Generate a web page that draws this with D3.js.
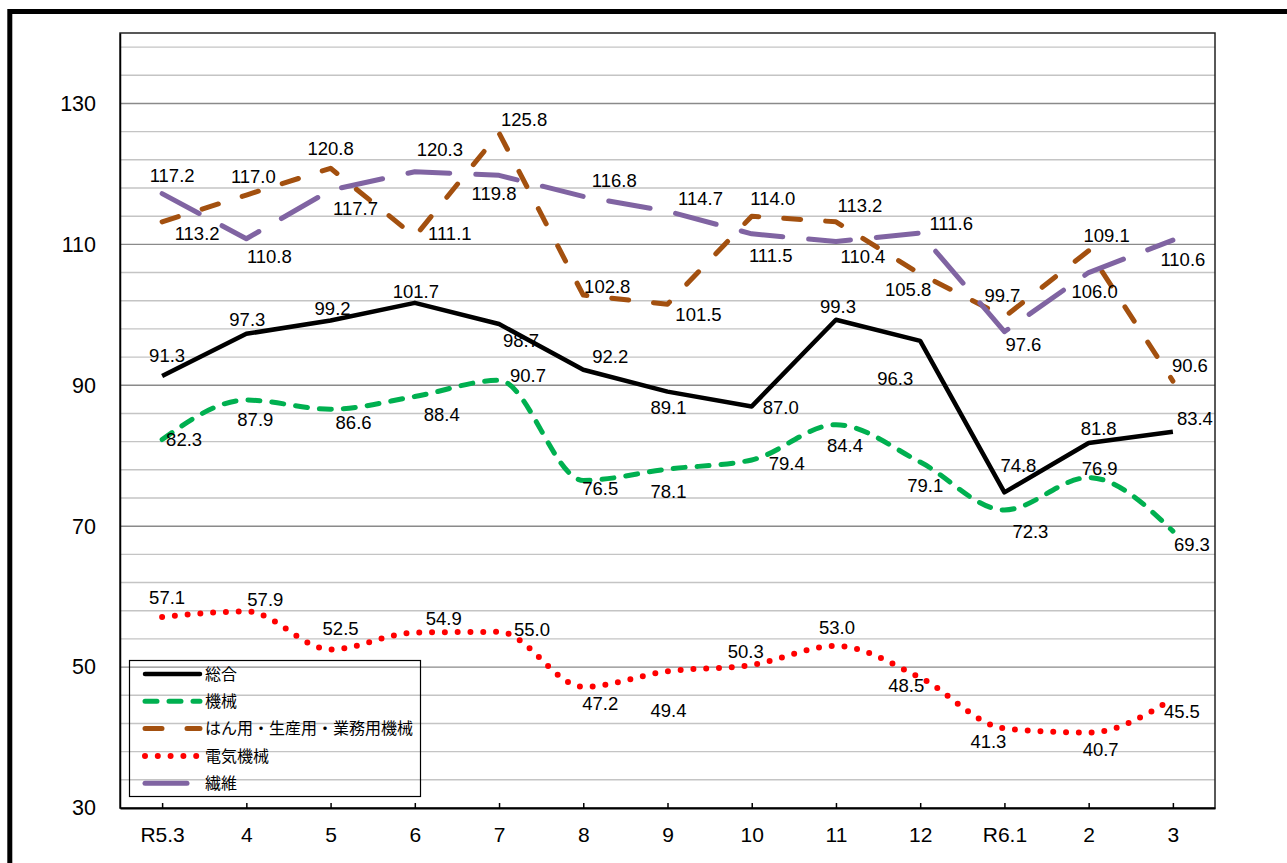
<!DOCTYPE html>
<html>
<head>
<meta charset="utf-8">
<script src="https://cdn.jsdelivr.net/npm/d3@7"></script>
<style>
  body { margin: 0; background: #fff; }
  svg { display: block; }
</style>
</head>
<body>
<div id="chart"></div>
<script>
// frame setup
const FRAME_WIDTH = 1287;
const FRAME_HEIGHT = 863;
const PLOT = {left: 120, right: 1215, top: 33, bottom: 808};

// data
const MONTHS = ["R5.3", "4", "5", "6", "7", "8", "9", "10", "11", "12", "R6.1", "2", "3"];
const SOGO    = [91.3, 97.3, 99.2, 101.7, 98.7, 92.2, 89.1, 87.0, 99.3, 96.3, 74.8, 81.8, 83.4];
const KIKAI   = [82.3, 87.9, 86.6, 88.4, 90.7, 76.5, 78.1, 79.4, 84.4, 79.1, 72.3, 76.9, 69.3];
const HANYO   = [113.2, 117.0, 120.8, 111.1, 125.8, 102.8, 101.5, 114.0, 113.2, 105.8, 99.7, 109.1, 90.6];
const DENKI   = [57.1, 57.9, 52.5, 54.9, 55.0, 47.2, 49.4, 50.3, 53.0, 48.5, 41.3, 40.7, 45.5];
const SENI    = [117.2, 110.8, 117.7, 120.3, 119.8, 116.8, 114.7, 111.5, 110.4, 111.6, 97.6, 106.0, 110.6];
const Y_TICKS = [30, 50, 70, 90, 110, 130];

// data label offsets (label centre relative to point, px)
const OFF_SOGO  = [[5,-21],[1,-15],[2,-12],[1,-12],[22,16],[27,-13],[1,16],[29,1],[2,-13],[-25,37],[14,-27],[10,-15],[22,-13]];
const OFF_KIKAI = [[22,0],[9,19],[23,13],[27,18],[29,-5],[17,8],[1,22],[35,3],[9,21],[5,23],[26,21],[11,-9],[19,13]];
const OFF_HANYO = [[35,12],[7,-19],[0,-20],[35,-3],[25,-14],[24,-9],[31,10],[21,-18],[24,-16],[-12,15],[-2,-22],[18,-15],[17,-16]];
const OFF_DENKI = [[5,-20],[19,-12],[10,-21],[29,-14],[33,-3],[17,17],[1,39],[-6,-14],[1,-19],[-14,8],[-16,13],[12,17],[9,13]];
const OFF_SENI  = [[10,-18],[23,18],[25,18],[25,-22],[-5,18],[31,-16],[33,-13],[19,22],[27,15],[31,-10],[19,13],[6,19],[10,19]];

const SERIES = [
  {name: "総合", values: SOGO, offsets: OFF_SOGO, color: "#000000", width: 4.5, dash: null, cap: "butt", smooth: false},
  {name: "機械", values: KIKAI, offsets: OFF_KIKAI, color: "#00b050", width: 5, dash: "12,12", cap: "round", smooth: true},
  {name: "はん用・生産用・業務用機械", values: HANYO, offsets: OFF_HANYO, color: "#a3500f", width: 5, dash: "17,25", cap: "round", smooth: false},
  {name: "電気機械", values: DENKI, offsets: OFF_DENKI, color: "#ff0000", width: 6, dash: "0,12.8", cap: "round", smooth: true},
  {name: "繊維", values: SENI, offsets: OFF_SENI, color: "#8064a2", width: 5, dash: "42,26", cap: "round", smooth: false}
];

const svg = d3.select("#chart")
  .append("svg")
    .attr("width", FRAME_WIDTH)
    .attr("height", FRAME_HEIGHT);

svg.append("rect")
  .attr("width", FRAME_WIDTH).attr("height", FRAME_HEIGHT)
  .attr("fill", "#fff");

// outer thick frame (cut off at right/bottom)
svg.append("rect")
  .attr("x", 9.8).attr("y", 11.5)
  .attr("width", 1300).attr("height", 900)
  .attr("fill", "none").attr("stroke", "#000").attr("stroke-width", 5);

// scales
const X_SCALE = d3.scalePoint()
  .domain(MONTHS)
  .range([PLOT.left, PLOT.right])
  .padding(0.5);
const Y_SCALE = d3.scaleLinear()
  .domain([30, 140])
  .range([PLOT.bottom, PLOT.top]);

// gridlines: minor every 4, major every 20
const minor = d3.range(34, 140, 4).filter(v => !Y_TICKS.includes(v));
svg.append("g").selectAll("line")
  .data(minor)
  .enter().append("line")
    .attr("x1", PLOT.left).attr("x2", PLOT.right)
    .attr("y1", d => Y_SCALE(d)).attr("y2", d => Y_SCALE(d))
    .attr("stroke", "#c4c4c4").attr("stroke-width", 1.4);
svg.append("g").selectAll("line")
  .data(Y_TICKS.filter(v => v > 30))
  .enter().append("line")
    .attr("x1", PLOT.left).attr("x2", PLOT.right)
    .attr("y1", d => Y_SCALE(d)).attr("y2", d => Y_SCALE(d))
    .attr("stroke", "#8a8a8a").attr("stroke-width", 1.4);

// plot border
svg.append("rect")
  .attr("x", PLOT.left).attr("y", PLOT.top)
  .attr("width", PLOT.right - PLOT.left).attr("height", PLOT.bottom - PLOT.top)
  .attr("fill", "none").attr("stroke", "#222").attr("stroke-width", 1.5);

// axes
const xAxis = svg.append("g")
  .attr("transform", "translate(0," + PLOT.bottom + ")")
  .call(d3.axisBottom(X_SCALE).tickSizeInner(-5).tickSizeOuter(0).tickPadding(19));
xAxis.select(".domain").attr("stroke", "#000").attr("stroke-width", 2);
xAxis.selectAll(".tick line").attr("stroke", "#000").attr("stroke-width", 1.5);
xAxis.selectAll("text")
  .attr("font-family", "'Liberation Sans', Arial, sans-serif")
  .attr("font-size", "21px").attr("fill", "#000");

const yAxis = svg.append("g")
  .attr("transform", "translate(" + PLOT.left + ",0)")
  .call(d3.axisLeft(Y_SCALE).tickValues(Y_TICKS).tickSize(0).tickPadding(24));
yAxis.select(".domain").attr("stroke", "#000").attr("stroke-width", 1.5);
yAxis.selectAll("text")
  .attr("font-family", "'Liberation Sans', Arial, sans-serif")
  .attr("font-size", "21.5px").attr("fill", "#000");

// lines
const X_POS = (d, i) => X_SCALE(MONTHS[i]);
SERIES.forEach(s => {
  const line = d3.line()
    .x(X_POS)
    .y(d => Y_SCALE(d))
    .curve(s.smooth ? d3.curveMonotoneX : d3.curveLinear);
  svg.append("path")
    .datum(s.values)
    .attr("d", line)
    .attr("fill", "none")
    .attr("stroke", s.color)
    .attr("stroke-width", s.width)
    .attr("stroke-linecap", s.cap)
    .attr("stroke-linejoin", "round")
    .attr("stroke-dasharray", s.dash);
});

// data labels
SERIES.forEach(s => {
  svg.append("g").selectAll("text")
    .data(s.values)
    .enter().append("text")
      .attr("x", (d, i) => X_POS(d, i) + s.offsets[i][0])
      .attr("y", (d, i) => Y_SCALE(d) + s.offsets[i][1])
      .attr("text-anchor", "middle")
      .attr("dy", "0.36em")
      .attr("font-family", "'Liberation Sans', Arial, sans-serif")
      .attr("font-size", "18.5px")
      .attr("fill", "#000")
      .text(d => d.toFixed(1));
});

// legend
const LEG = {x: 129, y: 660, w: 291, h: 136, first: 674, step: 27.3};
svg.append("rect")
  .attr("x", LEG.x + 0.5).attr("y", LEG.y + 0.5)
  .attr("width", LEG.w).attr("height", LEG.h)
  .attr("fill", "none").attr("stroke", "#000").attr("stroke-width", 1.2);
const legItems = svg.append("g").selectAll("g")
  .data(SERIES)
  .enter().append("g")
    .attr("transform", (d, i) => "translate(0," + (LEG.first + i * LEG.step) + ")");
legItems.append("line")
  .attr("x1", 145).attr("x2", 200)
  .attr("stroke", d => d.color)
  .attr("stroke-width", d => d.width)
  .attr("stroke-linecap", d => d.name === "総合" ? "round" : d.cap)
  .attr("stroke-dasharray", d => d.dash);
legItems.append("text")
  .attr("x", 205)
  .attr("dy", "0.36em")
  .attr("font-family", "'Noto Sans CJK JP', sans-serif")
  .attr("font-size", "16px")
  .attr("fill", "#000")
  .text(d => d.name);
</script>
</body>
</html>
